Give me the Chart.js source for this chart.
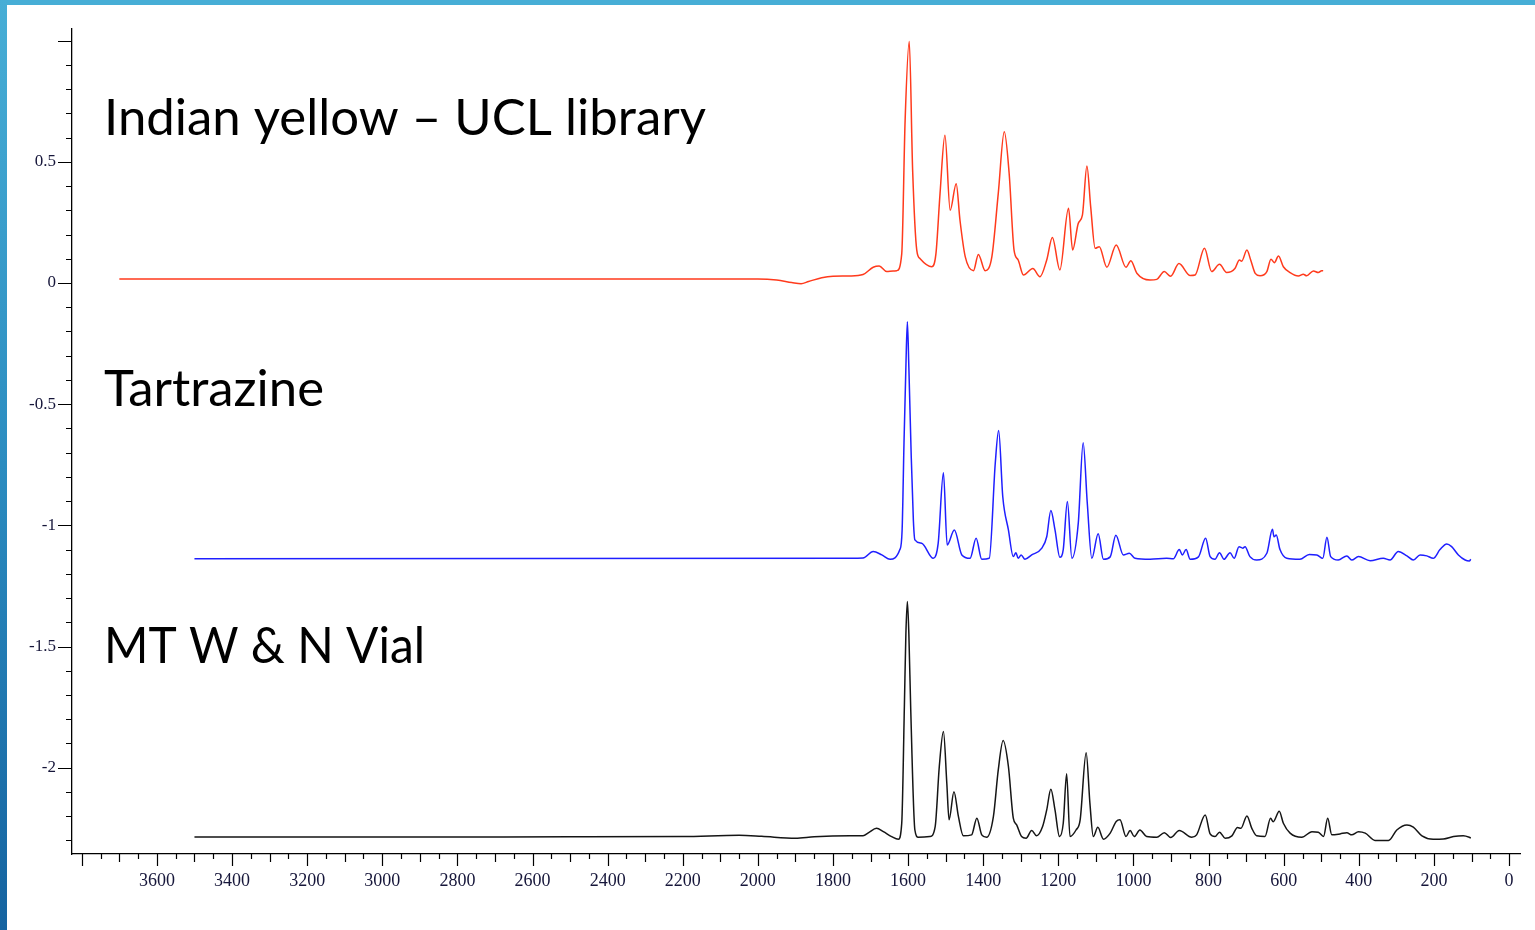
<!DOCTYPE html>
<html>
<head>
<meta charset="utf-8">
<script src="https://cdn.jsdelivr.net/npm/chart.js@4.4.1/dist/chart.umd.min.js"></script>
<style>
  html, body { margin: 0; padding: 0; background: #fff; overflow: hidden; }
  #frameTop { position: absolute; left: 0; top: 0; width: 1535px; height: 5px; background: #47aed6; }
  #frameLeft { position: absolute; left: 0; top: 0; width: 7px; height: 930px;
    background: linear-gradient(to bottom, #47aed6, #2b8cc0 50%, #1563a0); }
  #spectra { position: absolute; left: 0; top: 0; }
</style>
</head>
<body>
<div id="frameTop"></div>
<div id="frameLeft"></div>
<canvas id="spectra" width="1535" height="930"></canvas>
<script>
// Raman shift (cm-1) and intensity
const redShift = [3700, 2000, 1950, 1910, 1885, 1865, 1830, 1800, 1755, 1720, 1693, 1677, 1657, 1640, 1630, 1617,
  1608, 1597, 1588, 1577, 1568, 1537, 1526, 1515, 1502, 1488, 1472, 1462, 1448, 1426, 1413, 1395, 1377, 1360,
  1344, 1331, 1318, 1307, 1293, 1268, 1249, 1231, 1216, 1196, 1173, 1162, 1147, 1136, 1124, 1114, 1102, 1091,
  1071, 1046, 1020, 1007, 991, 956, 938, 918, 901, 879, 849, 836, 811, 792, 771, 752, 730, 718, 712, 698, 688,
  676, 663, 645, 634, 625, 614, 601, 583, 561, 548, 539, 521, 508, 499, 495];
const redIntensity = [0.016, 0.016, 0.012, 0.002, -0.003, 0.006, 0.022, 0.028, 0.029, 0.035, 0.065, 0.07, 0.047, 0.05, 0.051, 0.12,
  0.67, 0.996, 0.466, 0.136, 0.10, 0.067, 0.12, 0.37, 0.61, 0.30, 0.41, 0.26, 0.109, 0.051, 0.118, 0.051, 0.109, 0.37,
  0.624, 0.452, 0.136, 0.095, 0.033, 0.06, 0.026, 0.095, 0.188, 0.054, 0.308, 0.136, 0.246, 0.28, 0.483, 0.315, 0.143, 0.15,
  0.065, 0.157, 0.065, 0.092, 0.04, 0.012, 0.015, 0.047, 0.028, 0.08, 0.031, 0.033, 0.143, 0.047, 0.077, 0.043, 0.06, 0.095, 0.09, 0.136, 0.095,
  0.04, 0.03, 0.047, 0.098, 0.084, 0.111, 0.067, 0.043, 0.029, 0.036, 0.03, 0.05, 0.043, 0.051, 0.05];

const blueShift = [3500, 1755, 1720, 1693, 1670, 1648, 1622, 1616, 1611, 1606, 1602, 1598, 1592, 1586, 1582, 1564,
  1533, 1520, 1506, 1496, 1477, 1457, 1435, 1419, 1404, 1384, 1368, 1359, 1348, 1333, 1320, 1313, 1307, 1299, 1289,
  1271, 1244, 1231, 1220, 1209, 1196, 1187, 1176, 1164, 1147, 1134, 1123, 1111, 1094, 1080, 1062, 1047, 1027, 1011,
  996, 956, 912, 894, 878, 870, 860, 849, 827, 808, 796, 783, 771, 759, 743, 732, 719, 709, 703, 690, 672, 645, 630,
  626, 620, 610, 592, 557, 532, 512, 496, 485, 475, 455, 432, 419, 401, 370, 335, 317, 295, 272, 255, 237, 219, 202,
  184, 166, 153, 135, 117, 106, 102];
const blueIntensity = [-1.138, -1.136, -1.135, -1.108, -1.122, -1.14, -1.10, -1.02, -0.661, -0.35, -0.160, -0.35, -0.70, -0.98, -1.06, -1.074,
  -1.136, -1.074, -0.783, -1.081, -1.019, -1.122, -1.136, -1.053, -1.14, -1.136, -0.744, -0.609, -0.882, -1.019, -1.129, -1.113, -1.136, -1.122, -1.14,
  -1.122, -1.094, -1.047, -0.939, -1.019, -1.132, -1.10, -0.902, -1.136, -0.991, -0.659, -0.909, -1.136, -1.035, -1.14, -1.13, -1.041, -1.122, -1.115,
  -1.136, -1.14, -1.136, -1.138, -1.10, -1.122, -1.10, -1.14, -1.13, -1.053, -1.129, -1.14, -1.113, -1.14, -1.113, -1.136, -1.088, -1.094, -1.088, -1.129, -1.143, -1.115, -1.016,
  -1.047, -1.04, -1.10, -1.136, -1.14, -1.12, -1.122, -1.136, -1.049, -1.129, -1.143, -1.126, -1.143, -1.129, -1.146, -1.136, -1.143, -1.108, -1.126, -1.143, -1.122, -1.126, -1.136,
  -1.10, -1.077, -1.088, -1.122, -1.143, -1.147, -1.14];

const blackShift = [3500, 3000, 2500, 2200, 2050, 1990, 1900, 1850, 1755, 1720, 1705, 1684, 1666, 1644, 1626, 1617,
  1610, 1606, 1602, 1598, 1593, 1582, 1573, 1542, 1528, 1517, 1506, 1497, 1491, 1478, 1466, 1453, 1431, 1417, 1404,
  1391, 1373, 1360, 1347, 1333, 1320, 1311, 1298, 1286, 1271, 1258, 1242, 1231, 1220, 1209, 1197, 1187, 1178, 1169,
  1153, 1142, 1126, 1116, 1107, 1095, 1080, 1062, 1046, 1036, 1020, 1009, 998, 983, 965, 938, 918, 901, 878, 845, 832,
  809, 796, 783, 771, 756, 738, 723, 714, 698, 685, 672, 650, 635, 628, 612, 601, 583, 552, 525, 508, 494, 483, 472,
  450, 432, 419, 401, 383, 357, 321, 299, 272, 255, 232, 202, 175, 148, 122, 106, 102];
const blackIntensity = [-2.286, -2.286, -2.285, -2.284, -2.279, -2.283, -2.291, -2.285, -2.281, -2.281, -2.268, -2.25, -2.264, -2.284, -2.295, -2.229,
  -1.748, -1.45, -1.314, -1.45, -1.762, -2.257, -2.287, -2.284, -2.243, -1.995, -1.851, -2.064, -2.215, -2.099, -2.202, -2.281, -2.277, -2.208, -2.277,
  -2.287, -2.202, -2.009, -1.888, -1.995, -2.208, -2.236, -2.284, -2.291, -2.259, -2.281, -2.243, -2.174, -2.089, -2.174, -2.284, -2.229, -2.025, -2.284,
  -2.257, -2.215, -1.938, -2.147, -2.284, -2.246, -2.295, -2.27, -2.222, -2.215, -2.284, -2.259, -2.284, -2.257, -2.284, -2.287, -2.268, -2.288, -2.259, -2.287, -2.277,
  -2.195, -2.273, -2.284, -2.266, -2.291, -2.281, -2.247, -2.25, -2.199, -2.25, -2.281, -2.284, -2.209, -2.223, -2.18, -2.229, -2.27, -2.287, -2.264, -2.266, -2.284, -2.209, -2.277,
  -2.273, -2.268, -2.277, -2.264, -2.27, -2.30, -2.30, -2.257, -2.236, -2.245, -2.281, -2.295, -2.294, -2.284, -2.281, -2.287, -2.29];

const sampleNames = ["Indian yellow \u2013 UCL library", "Tartrazine", "MT W & N Vial"];
const hiddenXLabels = [3800];
const hiddenYLabels = [1];

function zip(xs, ys) {
  return xs.map((x, i) => ({ x: x, y: ys[i] }));
}

// tick marks of three lengths plus the sample names
const decorations = {
  id: "decorations",
  afterDraw(chart) {
    const ctx = chart.ctx;
    const xs = chart.scales.x;
    const ys = chart.scales.y;
    const area = chart.chartArea;
    ctx.save();
    ctx.strokeStyle = "#000";
    ctx.lineWidth = 1.2;
    ctx.beginPath();
    for (let i = -23; i <= 10; i++) {
      const py = Math.round(ys.getPixelForValue(i / 10)) + 0.5;
      const len = i % 5 === 0 ? 14 : 6;
      ctx.moveTo(area.left - len, py);
      ctx.lineTo(area.left, py);
    }
    for (let w = 0; w <= 3800; w += 50) {
      const px = Math.round(xs.getPixelForValue(w)) + 0.5;
      const len = w % 200 === 0 ? 12 : (w % 100 === 0 ? 8 : 5);
      ctx.moveTo(px, area.bottom);
      ctx.lineTo(px, area.bottom + len);
    }
    ctx.stroke();

    // label text, stretched to the widths seen on the slide
    ctx.fillStyle = "#000";
    ctx.font = "400 51px Lato, 'Open Sans', sans-serif";
    ctx.textBaseline = "alphabetic";
    const baselines = [135, 406, 663];
    const widths = [602, 220, 321];
    sampleNames.forEach((name, i) => {
      const sx = widths[i] / ctx.measureText(name).width;
      ctx.save();
      ctx.translate(104, baselines[i]);
      ctx.scale(sx, 1);
      ctx.fillText(name, 0, 0);
      ctx.restore();
    });
    ctx.restore();
  }
};

const tickFont = { family: "'Liberation Serif', 'Times New Roman', serif", size: 18 };

new Chart(document.getElementById("spectra"), {
  type: "line",
  data: {
    datasets: [
      { label: sampleNames[0], data: zip(redShift, redIntensity), borderColor: "#ff3a1c" },
      { label: sampleNames[1], data: zip(blueShift, blueIntensity), borderColor: "#1f1fff" },
      { label: sampleNames[2], data: zip(blackShift, blackIntensity), borderColor: "#151515" }
    ]
  },
  options: {
    responsive: false,
    animation: false,
    parsing: false,
    layout: { padding: { top: 29, right: 15, left: 0, bottom: 0 } },
    elements: {
      point: { radius: 0 },
      line: { borderWidth: 1.5, cubicInterpolationMode: "monotone" }
    },
    plugins: { legend: { display: false }, tooltip: { enabled: false } },
    scales: {
      x: {
        type: "linear",
        reverse: true,
        min: -29,
        max: 3826,
        afterFit: s => { s.height = 76; },
        grid: { drawOnChartArea: false, drawTicks: false },
        border: { display: true, color: "#000", width: 1.3 },
        ticks: {
          stepSize: 200,
          includeBounds: false,
          autoSkip: false,
          maxRotation: 0,
          padding: 16,
          color: "#16163a",
          font: tickFont,
          callback: v => hiddenXLabels.includes(v) ? "" : String(v)
        }
      },
      y: {
        type: "linear",
        min: -2.356,
        max: 1.048,
        afterFit: s => { s.width = 72; },
        grid: { drawOnChartArea: false, drawTicks: false },
        border: { display: true, color: "#000", width: 1.3 },
        ticks: {
          stepSize: 0.5,
          includeBounds: false,
          autoSkip: false,
          padding: 16,
          color: "#16163a",
          font: { family: tickFont.family, size: 17 },
          callback: v => hiddenYLabels.includes(v) ? "" : String(v)
        }
      }
    }
  },
  plugins: [decorations]
});
</script>
</body>
</html>
